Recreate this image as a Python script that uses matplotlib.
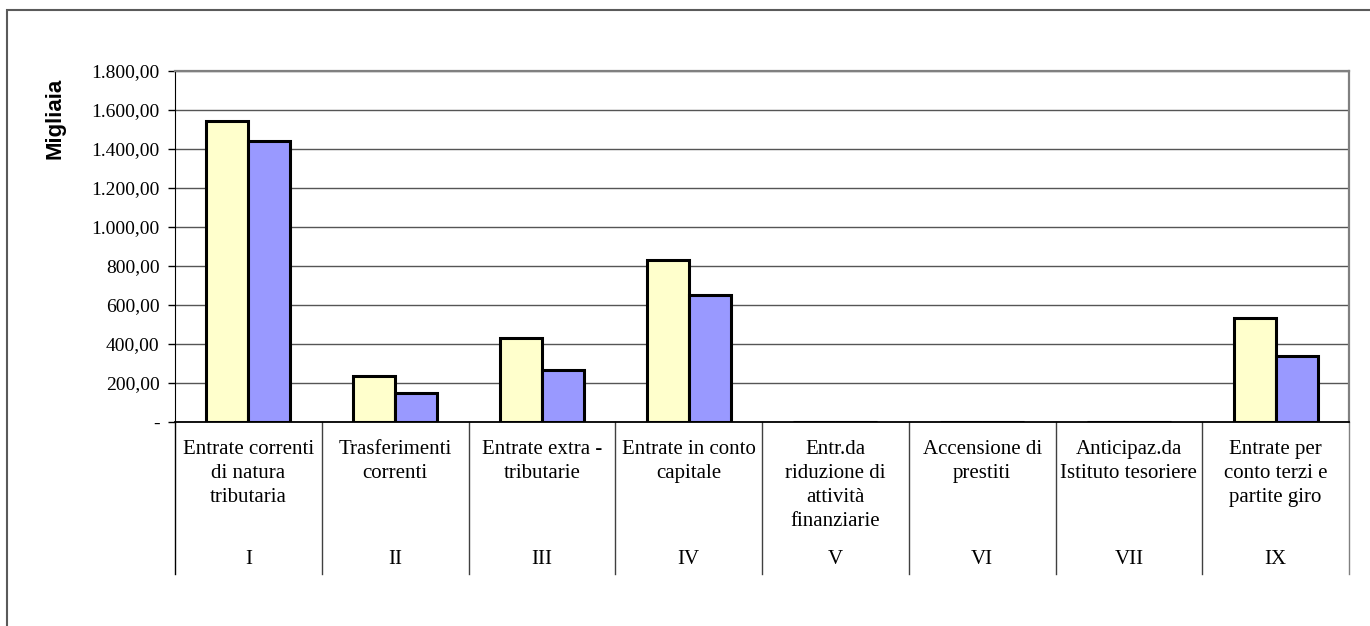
import matplotlib
matplotlib.use("Agg")
import numpy as np
from matplotlib import pyplot as plt
from matplotlib.patches import Rectangle
from matplotlib.ticker import FuncFormatter, MultipleLocator
import matplotlib.transforms as mtransforms

# data (thousands)
categories = ["Entrate correnti\ndi natura\ntributaria",
              "Trasferimenti\ncorrenti",
              "Entrate extra -\ntributarie",
              "Entrate in conto\ncapitale",
              "Entr.da\nriduzione di\nattività\nfinanziarie",
              "Accensione di\nprestiti",
              "Anticipaz.da\nIstituto tesoriere",
              "Entrate per\nconto terzi e\npartite giro"]
roman = ["I", "II", "III", "IV", "V", "VI", "VII", "IX"]
serie_a = [1545, 236, 431, 831, 0, 0, 0, 532]
serie_b = [1442, 149, 267, 651, 0, 0, 0, 336]

W, H = 1370, 626
fig = plt.figure(figsize=(W / 100, H / 100), dpi=100)
ax = fig.add_axes([175 / W, 1 - 422 / H, (1349 - 175) / W, (422 - 71) / H])

# outer frame (cropped at right/bottom like the original)
fig.patches.append(Rectangle((7 / W, -0.2), 2, 1 - 10 / H + 0.2, transform=fig.transFigure,
                             fill=False, edgecolor="#5a5a5a", linewidth=1.5))

x = np.arange(len(categories))
bw = 0.286
ax.bar(x - bw / 2, serie_a, bw, color="#FFFFCC", edgecolor="black", linewidth=2.2, zorder=3)
ax.bar(x + bw / 2, serie_b, bw, color="#9999FF", edgecolor="black", linewidth=2.2, zorder=3)

ax.set_xlim(-0.5, len(categories) - 0.5)
ax.set_ylim(0, 1800)
ax.yaxis.set_major_locator(MultipleLocator(200))


def fmt_it(v, pos):
    if v == 0:
        return "-"
    s = "{:,.2f}".format(v)
    return s.replace(",", "X").replace(".", ",").replace("X", ".")


ax.yaxis.set_major_formatter(FuncFormatter(fmt_it))
ax.tick_params(axis="y", direction="out", length=5, width=1, color="black",
               labelsize=14, pad=6)
for lab in ax.get_yticklabels():
    lab.set_fontfamily("Liberation Serif")
ax.set_xticks([])
ax.grid(axis="y", color="#555555", linewidth=1.0, zorder=0)

ax.spines["top"].set_color("#808080")
ax.spines["right"].set_color("#808080")
ax.spines["top"].set_linewidth(1.6)
ax.spines["right"].set_linewidth(1.6)
ax.spines["left"].set_color("black")
ax.spines["bottom"].set_color("black")
ax.spines["bottom"].set_linewidth(1.3)

fig.text(55 / W, 1 - 118 / H, "Migliaia", rotation=90, ha="center", va="center",
         fontfamily="Liberation Sans", fontweight="bold", fontsize=16)

# category table below the axis
trans = mtransforms.blended_transform_factory(ax.transData, ax.transAxes)
sep_bottom = -(574 - 422) / (422 - 71)
for i in range(len(categories) + 1):
    col = "black" if i == 0 else ("#808080" if i == len(categories) else "#404040")
    ax.plot([i - 0.5, i - 0.5], [0, sep_bottom], transform=trans, color=col,
            linewidth=1.0, clip_on=False)
for i, (c, r) in enumerate(zip(categories, roman)):
    ax.text(i, -(440 - 422) / (422 - 71), c, transform=trans, ha="center", va="top",
            fontsize=15, fontfamily="Liberation Serif", linespacing=1.36)
    ax.text(i, -(559 - 422) / (422 - 71), r, transform=trans, ha="center", va="center",
            fontsize=15, fontfamily="Liberation Serif")

fig.savefig("out.png", dpi=100)
